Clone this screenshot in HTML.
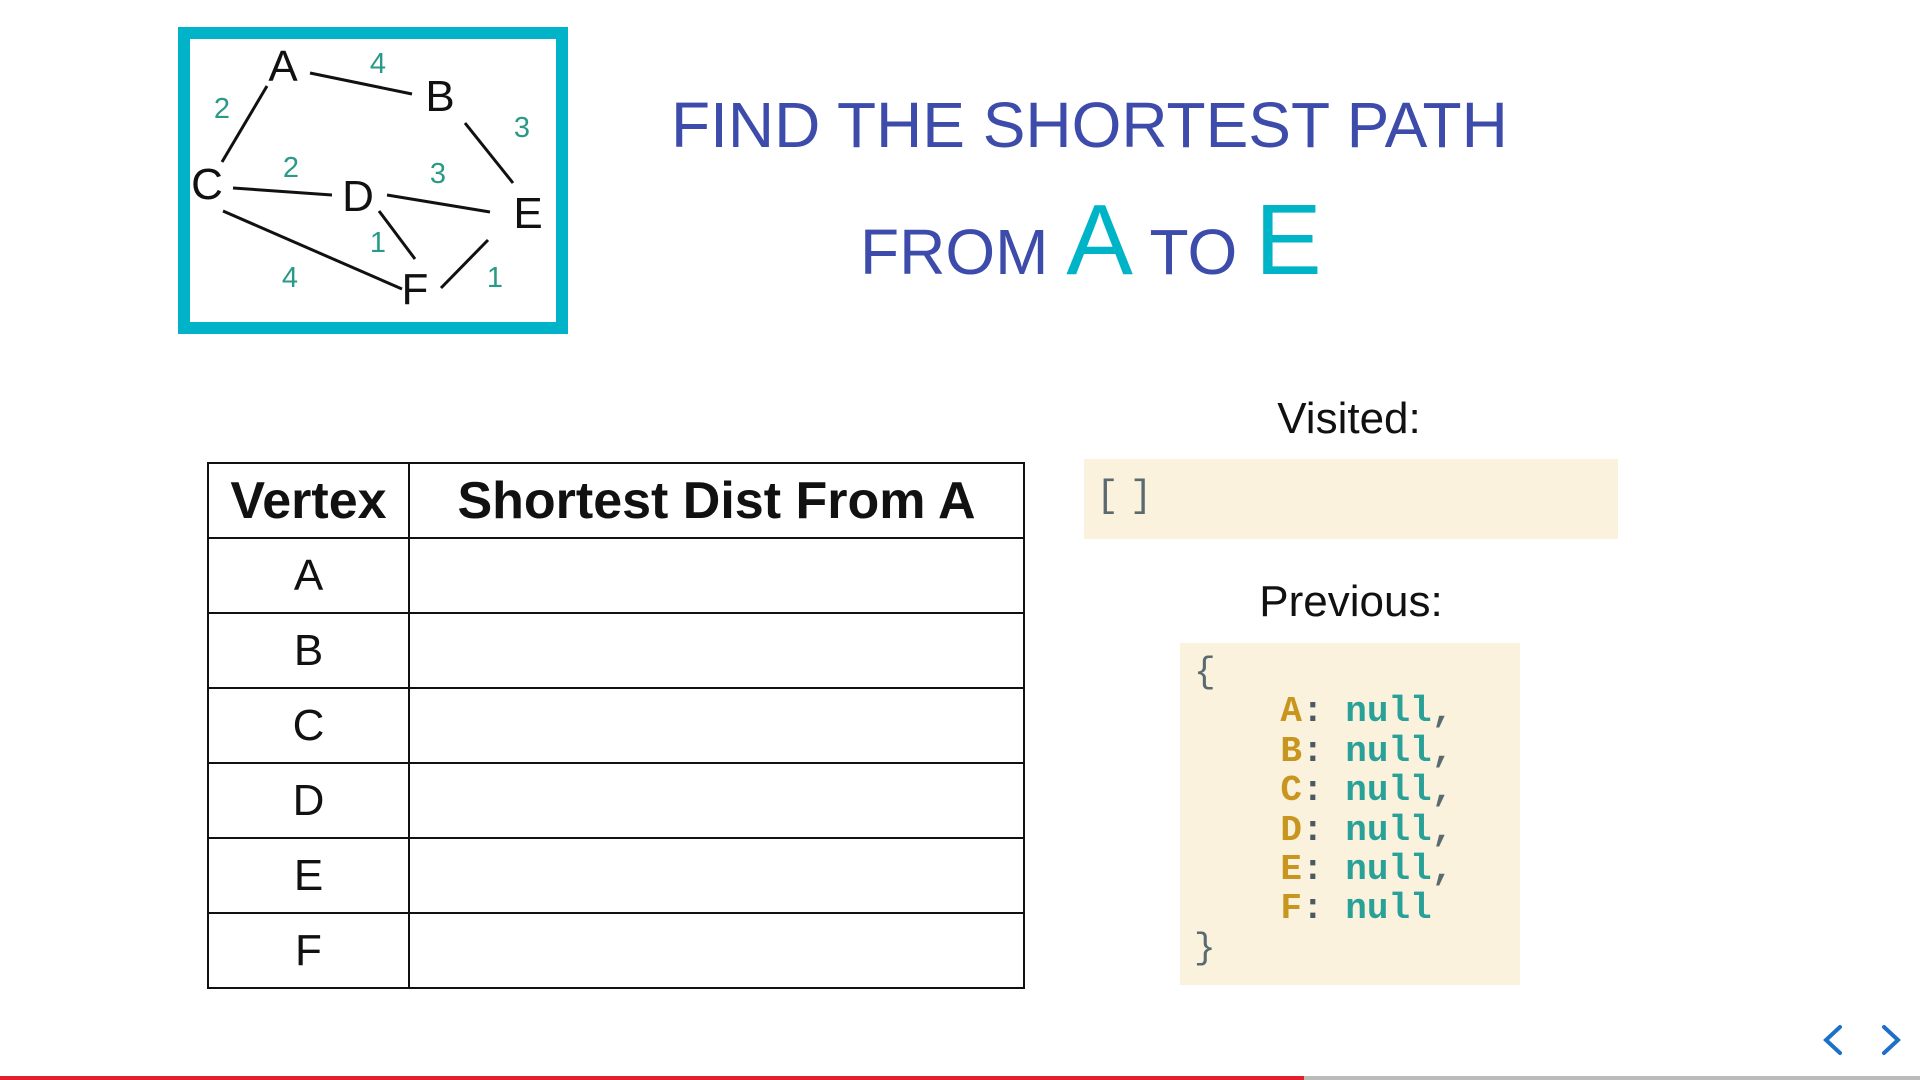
<!DOCTYPE html>
<html><head><meta charset="utf-8"><style>
body{margin:0;width:1920px;height:1080px;background:#fff;position:relative;overflow:hidden;font-family:"Liberation Sans","DejaVu Sans",sans-serif;}
.abs{position:absolute;}
table{border-collapse:collapse;position:absolute;left:207px;top:462px;}
td{border:2.5px solid #111;height:73px;text-align:center;font-size:44px;color:#111;padding:0;}
.code{font-family:"Liberation Mono",monospace;font-weight:bold;font-size:36px;}
</style></head><body>
<svg class="abs" style="left:0;top:0" width="1920" height="1080">
<rect x="184" y="33" width="378" height="295" fill="none" stroke="#00b3c9" stroke-width="12"/>
<g stroke="#111" stroke-width="3">
<line x1="310" y1="73" x2="412" y2="94"/><line x1="267" y1="86" x2="222" y2="162"/>
<line x1="465" y1="123" x2="513" y2="183"/><line x1="233" y1="188" x2="332" y2="195"/>
<line x1="387" y1="195" x2="490" y2="212"/><line x1="379" y1="211" x2="415" y2="259"/>
<line x1="223" y1="211" x2="402" y2="289"/><line x1="441" y1="288" x2="488" y2="240"/>
</g>
<g font-family="Liberation Sans,sans-serif" font-size="44" fill="#111" text-anchor="middle">
<text x="283" y="81">A</text><text x="440" y="111">B</text><text x="207" y="199">C</text>
<text x="358" y="211">D</text><text x="528" y="228">E</text><text x="415" y="304">F</text>
</g>
<g font-family="Liberation Sans,sans-serif" font-size="29" fill="#2a9a88" text-anchor="middle">
<text x="378" y="73">4</text><text x="222" y="118">2</text><text x="522" y="137">3</text>
<text x="291" y="177">2</text><text x="438" y="183">3</text><text x="378" y="252">1</text>
<text x="290" y="287">4</text><text x="495" y="287">1</text>
</g>
<g stroke="#1e6fc8" stroke-width="4" fill="none" stroke-linecap="round">
<polyline points="1840,1027 1826,1040 1840,1053"/><polyline points="1884,1027 1898,1040 1884,1053"/>
</g>
<rect x="0" y="1076" width="1304" height="4" fill="#e0202a"/>
<rect x="1304" y="1076" width="616" height="4" fill="#bbb"/>
</svg>
<div class="abs" style="left:671px;top:88px;font-size:64px;color:#3d4bab;white-space:nowrap">FIND THE SHORTEST PATH</div>
<div class="abs" style="left:860px;top:183px;font-size:64px;color:#3d4bab;white-space:nowrap">FROM <span style="font-size:100px;color:#00b4c8">A</span> TO <span style="font-size:100px;color:#00b4c8">E</span></div>
<table>
<tr><td style="width:199px;font-weight:bold;font-size:52px">Vertex</td><td style="width:613px;font-weight:bold;font-size:52px">Shortest Dist From A</td></tr>
<tr><td>A</td><td></td></tr><tr><td>B</td><td></td></tr><tr><td>C</td><td></td></tr>
<tr><td>D</td><td></td></tr><tr><td>E</td><td></td></tr><tr><td>F</td><td></td></tr>
</table>
<div class="abs" style="left:1249px;top:394px;width:200px;text-align:center;font-size:44px;color:#111">Visited:</div>
<div class="abs" style="left:1084px;top:459px;width:534px;height:80px;background:#faf2dc"></div>
<div class="abs code" style="left:1096px;top:475px;font-size:38px;color:#5a6b70;font-weight:normal;letter-spacing:-6px">[ ]</div>
<div class="abs" style="left:1241px;top:577px;width:220px;text-align:center;font-size:44px;color:#111">Previous:</div>
<div class="abs code" style="left:1180px;top:643px;width:340px;height:342px;background:#faf2dc;line-height:39.4px;white-space:pre;padding-top:10px;box-sizing:border-box;padding-left:14px"><span style="color:#5a6b70;font-weight:normal">{</span>
<span style="color:#c8961e">    A</span><span style="color:#4a5a60">:</span> <span style="color:#2aa198">null</span><span style="color:#5a6b70">,</span>
<span style="color:#c8961e">    B</span><span style="color:#4a5a60">:</span> <span style="color:#2aa198">null</span><span style="color:#5a6b70">,</span>
<span style="color:#c8961e">    C</span><span style="color:#4a5a60">:</span> <span style="color:#2aa198">null</span><span style="color:#5a6b70">,</span>
<span style="color:#c8961e">    D</span><span style="color:#4a5a60">:</span> <span style="color:#2aa198">null</span><span style="color:#5a6b70">,</span>
<span style="color:#c8961e">    E</span><span style="color:#4a5a60">:</span> <span style="color:#2aa198">null</span><span style="color:#5a6b70">,</span>
<span style="color:#c8961e">    F</span><span style="color:#4a5a60">:</span> <span style="color:#2aa198">null</span>
<span style="color:#5a6b70;font-weight:normal">}</span></div>
</body></html>
